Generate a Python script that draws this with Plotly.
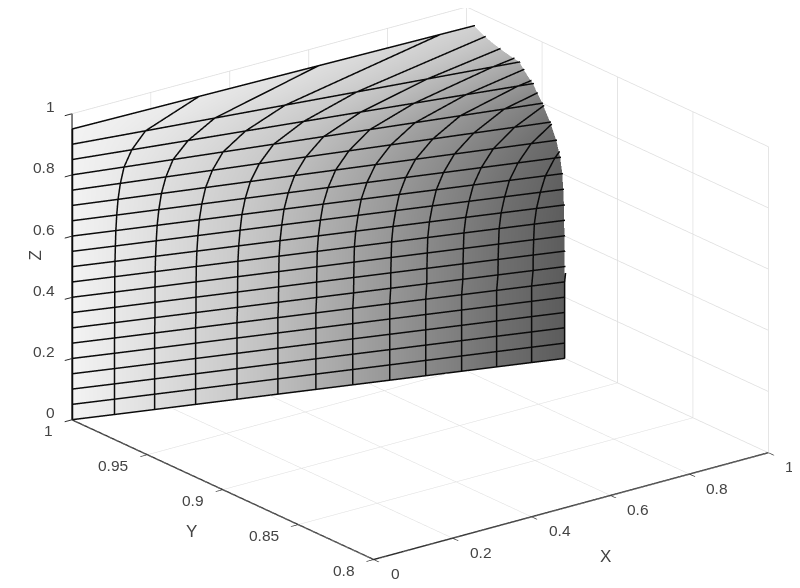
import numpy as np
import plotly.graph_objects as go

col_x = [0, .0866, .168, .251, .335, .418, .495, .570, .645, .718, .791, .862, .933, 1.0]
col_shade = [.95, .91, .87, .83, .79, .74, .69, .64, .59, .54, .49, .44, .40, .36]
row_z = [0, .05, .10, .15, .20, .25, .30, .35, .40, .45, .50, .55, .60, .65, .70, .75, .80, .85, .90, .95]
row_stretch = [1, 1, 1, 1, 1, 1, 1.003, 1.004, 1.005, 1.007, 1.012, 1.022, 1.035, 1.06, 1.10, 1.17, 1.28, 1.5, 1.9, 3.65]
row_depth = [.065, .065, .065, .065, .065, .065, .065, .0648, .0648, .0646, .0645, .064, .0634, .062, .0594, .0554, .0502, .044, .035, .005]

x_ticks = [0, .2, .4, .6, .8, 1]
x_tick_text = ["0", "0.2", "0.4", "0.6", "0.8", "1"]
y_ticks = [.8, .85, .9, .95, 1]
y_tick_text = ["0.8", "0.85", "0.9", "0.95", "1"]
z_ticks = [0, .2, .4, .6, .8, 1]
z_tick_text = ["0", "0.2", "0.4", "0.6", "0.8", "1"]

X = np.outer(row_stretch, col_x)
Y = 1 - np.array(row_depth)[:, None] * X
Z = np.tile(np.array(row_z)[:, None], (1, len(col_x)))
C = np.tile(np.array(col_shade), (len(row_z), 1))

# lift the wire slightly toward the camera so the surface does not hide it
lift = .003
LX = np.maximum(X - .568 * lift, 0)
LY = Y - .743 * lift * .2
LZ = Z + .354 * lift / .655

lx, ly, lz = [], [], []
for i in range(len(row_z)):
    lx += list(LX[i]) + [None]; ly += list(LY[i]) + [None]; lz += list(LZ[i]) + [None]
for j in range(len(col_x)):
    lx += list(LX[:, j]) + [None]; ly += list(LY[:, j]) + [None]; lz += list(LZ[:, j]) + [None]

fig = go.Figure()
fig.add_trace(go.Surface(x=X, y=Y, z=Z, surfacecolor=C, cmin=0, cmax=1,
                         colorscale=[[0, "#000"], [1, "#fff"]], showscale=False,
                         lighting=dict(ambient=1, diffuse=0, specular=0, roughness=1, fresnel=0),
                         hoverinfo="skip"))
fig.add_trace(go.Scatter3d(x=lx, y=ly, z=lz, mode="lines", line=dict(color="#0a0a0a", width=3),
                           hoverinfo="skip", showlegend=False))

font = dict(family="Liberation Sans", size=15.5, color="#444")
title_font = dict(family="Liberation Sans", size=17, color="#444")
axis = dict(showbackground=False, gridcolor="#dcdcdc", gridwidth=1.5, showline=True,
            linecolor="#2a2a2a", linewidth=3, ticks="outside", ticklen=9, tickcolor="#2a2a2a", tickwidth=2,
            zeroline=False, title=dict(text=""), showspikes=False, showticklabels=False)

labels = []
for v, t in zip(x_ticks, x_tick_text):
    labels.append(dict(x=v, y=.8, z=0, text=t, showarrow=False, font=font, xanchor="left", xshift=15, yshift=-14))
for v, t in zip(y_ticks, y_tick_text):
    labels.append(dict(x=0, y=v, z=0, text=t, showarrow=False, font=font, xanchor="right", xshift=-17, yshift=-11))
for v, t in zip(z_ticks, z_tick_text):
    labels.append(dict(x=0, y=1, z=v, text=t, showarrow=False, font=font, xanchor="right", xshift=-15, yshift=7))

center = np.array([-.046, .0078, -.060])
eye = np.array([-.568, -.743, .354]) * 2 + center

fig.update_layout(
    width=800, height=588, margin=dict(l=0, r=0, t=0, b=0), paper_bgcolor="white", showlegend=False,
    scene=dict(
        domain=dict(x=[0, 1], y=[0, 1]),
        xaxis=dict(axis, range=[0, 1], tickvals=x_ticks),
        yaxis=dict(axis, range=[.8, 1], tickvals=y_ticks),
        zaxis=dict(axis, range=[0, 1], tickvals=z_ticks),
        aspectmode="manual", aspectratio=dict(x=1.69, y=1.69, z=1.113),
        camera=dict(projection=dict(type="orthographic"), up=dict(x=0, y=0, z=1),
                    center=dict(x=center[0], y=center[1], z=center[2]),
                    eye=dict(x=eye[0], y=eye[1], z=eye[2])),
        annotations=labels,
    ),
    annotations=[
        dict(text="X", x=605 / 800, y=1 - 560 / 588, xref="paper", yref="paper", showarrow=False, font=title_font),
        dict(text="Y", x=176 / 800, y=1 - 535 / 588, xref="paper", yref="paper", showarrow=False, font=title_font),
        dict(text="Z", x=15 / 800, y=1 - 248 / 588, xref="paper", yref="paper", showarrow=False, textangle=-90, font=title_font),
    ],
)
fig.write_html("out.html")
